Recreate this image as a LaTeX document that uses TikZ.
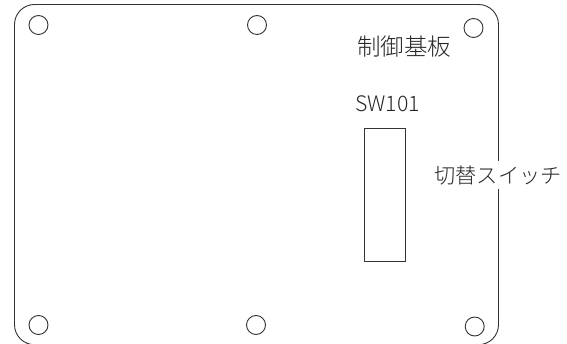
\documentclass[tikz,border=0pt]{standalone}
\usepackage{fontspec}
\setmainfont{Noto Sans CJK JP Light}
\tikzset{
  line/.style={draw=black!80,line width=0.9pt},
  hole/.style={circle,line,minimum size=19pt,inner sep=0pt},
  lbl/.style={inner sep=0pt,text=black!85},
}
\begin{document}
\begin{tikzpicture}[x=1pt,y=-1pt]
\useasboundingbox (0,0) rectangle (567,344);
\fill[white] (0,0) rectangle (567,344);
\draw[line,rounded corners=20pt] (14.5,4.5) rectangle (498.5,344.7);
\node[hole] (h1) at (38.5,25) {};
\node[hole] (h2) at (257,25) {};
\node[hole] (h3) at (473.5,28) {};
\node[hole] (h4) at (38.5,325) {};
\node[hole] (h5) at (256,325) {};
\node[hole] (h6) at (474.7,326.5) {};
\node[line,minimum width=40.5pt,minimum height=133pt,inner sep=0pt] (sw) at (385,194.7) {};
\node[lbl,font=\fontsize{23.5pt}{25pt}\selectfont] (title) at (404,47) {制御基板};
\node[lbl,font=\fontsize{21.3pt}{23pt}\selectfont] (swl) at (387.5,103.8) {SW101};
\node[fill=white,inner xsep=0pt,inner ysep=4pt,minimum width=124pt,minimum height=28pt,text=black!85,font=\fontsize{21.2pt}{23pt}\selectfont] (cs) at (498,175) {切替スイッチ};
\end{tikzpicture}
\end{document}
